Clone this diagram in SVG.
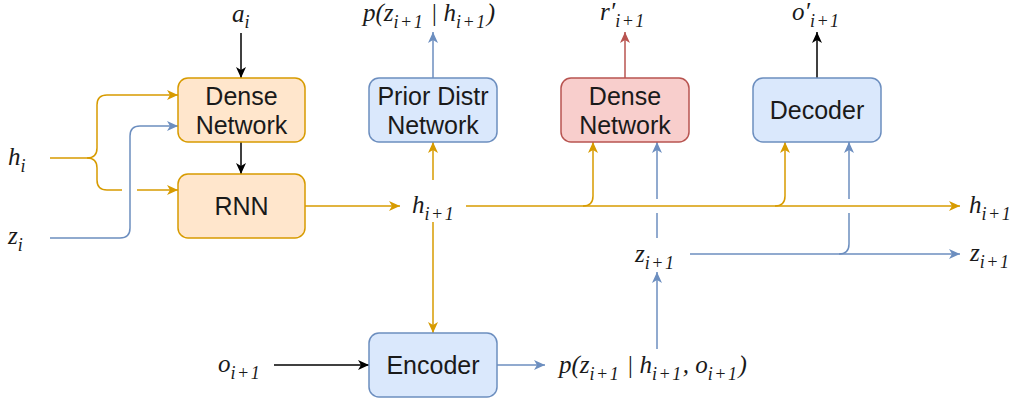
<svg xmlns="http://www.w3.org/2000/svg" width="1014" height="401" viewBox="0 0 1014 401">
<style>
.box{stroke-width:1.5}
.or{fill:#ffe6cc;stroke:#d79b00}
.bl{fill:#dae8fc;stroke:#6c8ebf}
.rd{fill:#f8cecc;stroke:#b85450}
.t{font-family:"Liberation Sans",Arial,sans-serif;font-size:25px;fill:#1a1a1a;text-anchor:middle}
.m{font-family:"Liberation Serif","Noto Serif","DejaVu Serif","Times New Roman",serif;font-style:italic;font-size:25px;fill:#1a1a1a}
.s{font-size:18px;letter-spacing:1.5px}
.c{fill:none;stroke-width:1.5}
.k{stroke:#000}
.o{stroke:#d79b00}
.b{stroke:#6c8ebf}
.r{stroke:#b85450}
</style>
<defs>
<marker id="ak" markerUnits="userSpaceOnUse" markerWidth="12" markerHeight="10" refX="11" refY="5" orient="auto"><path d="M0,0 L11,5 L0,10 L3,5 Z" fill="#000"/></marker>
<marker id="ao" markerUnits="userSpaceOnUse" markerWidth="12" markerHeight="10" refX="11" refY="5" orient="auto"><path d="M0,0 L11,5 L0,10 L3,5 Z" fill="#d79b00"/></marker>
<marker id="ab" markerUnits="userSpaceOnUse" markerWidth="12" markerHeight="10" refX="11" refY="5" orient="auto"><path d="M0,0 L11,5 L0,10 L3,5 Z" fill="#6c8ebf"/></marker>
<marker id="ar" markerUnits="userSpaceOnUse" markerWidth="12" markerHeight="10" refX="11" refY="5" orient="auto"><path d="M0,0 L11,5 L0,10 L3,5 Z" fill="#b85450"/></marker>
</defs>

<g id="connectors">
<path class="c k" d="M241,33 L241,78" marker-end="url(#ak)"/>
<path class="c k" d="M241,142 L241,174" marker-end="url(#ak)"/>
<path class="c o" d="M50,158 L87,158 Q97,158 97,148 L97,105 Q97,95 107,95 L178,95" marker-end="url(#ao)"/>
<path class="c o" d="M87,158 Q97,158 97,168 L97,180 Q97,190 107,190 L122,190"/>
<path class="c o" d="M137,190 L178,190" marker-end="url(#ao)"/>
<path class="c b" d="M50,238 L120,238 Q130,238 130,228 L130,136 Q130,126 140,126 L178,126" marker-end="url(#ab)"/>
<path class="c o" d="M305,206 L400,206" marker-end="url(#ao)"/>
<path class="c o" d="M433,180 L433,142" marker-end="url(#ao)"/>
<path class="c o" d="M433,222 L433,333" marker-end="url(#ao)"/>
<path class="c o" d="M466,206 L960,206" marker-end="url(#ao)"/>
<path class="c o" d="M583,206 Q593,206 593,196 L593,142" marker-end="url(#ao)"/>
<path class="c o" d="M775,206 Q785,206 785,196 L785,142" marker-end="url(#ao)"/>
<path class="c b" d="M497,365 L545,365" marker-end="url(#ab)"/>
<path class="c b" d="M657,349 L657,272" marker-end="url(#ab)"/>
<path class="c b" d="M657,238 L657,213"/>
<path class="c b" d="M657,199 L657,142" marker-end="url(#ab)"/>
<path class="c b" d="M690,254 L960,254" marker-end="url(#ab)"/>
<path class="c b" d="M839,254 Q849,254 849,244 L849,213"/>
<path class="c b" d="M849,199 L849,142" marker-end="url(#ab)"/>
<path class="c k" d="M274,365 L369,365" marker-end="url(#ak)"/>
<path class="c k" d="M817,78 L817,32" marker-end="url(#ak)"/>
<path class="c r" d="M625,78 L625,32" marker-end="url(#ar)"/>
<path class="c b" d="M433,78 L433,32" marker-end="url(#ab)"/>
</g>

<g id="dense1"><rect class="box or" x="178" y="78" width="127" height="64" rx="10"/><text class="t" x="241.5" y="105">Dense</text><text class="t" x="241.5" y="134">Network</text></g>
<g id="rnn"><rect class="box or" x="178" y="174" width="127" height="64" rx="10"/><text class="t" x="241.5" y="215">RNN</text></g>
<g id="prior"><rect class="box bl" x="369" y="78" width="128" height="64" rx="10"/><text class="t" x="433" y="105">Prior Distr</text><text class="t" x="433" y="134">Network</text></g>
<g id="dense2"><rect class="box rd" x="561" y="78" width="128" height="64" rx="10"/><text class="t" x="625" y="105">Dense</text><text class="t" x="625" y="134">Network</text></g>
<g id="decoder"><rect class="box bl" x="753" y="78" width="128" height="64" rx="10"/><text class="t" x="817" y="119">Decoder</text></g>
<g id="encoder"><rect class="box bl" x="369" y="333" width="128" height="64" rx="10"/><text class="t" x="433" y="374">Encoder</text></g>

<g id="labels">
<text class="m" x="232" y="22">a<tspan class="s" dy="6">i</tspan></text>
<text class="m" x="363" y="21">p(z<tspan class="s" dy="7">i+1</tspan><tspan dy="-7"> | h</tspan><tspan class="s" dy="7">i+1</tspan><tspan dy="-7">)</tspan></text>
<text class="m" x="600" y="20">r′<tspan class="s" dy="7">i+1</tspan></text>
<text class="m" x="792" y="20">o′<tspan class="s" dy="7">i+1</tspan></text>
<text class="m" x="8" y="165">h<tspan class="s" dy="7">i</tspan></text>
<text class="m" x="8" y="244">z<tspan class="s" dy="7">i</tspan></text>
<text class="m" x="412" y="213">h<tspan class="s" dy="7">i+1</tspan></text>
<text class="m" x="969" y="213">h<tspan class="s" dy="7">i+1</tspan></text>
<text class="m" x="635" y="262">z<tspan class="s" dy="7">i+1</tspan></text>
<text class="m" x="970" y="261">z<tspan class="s" dy="7">i+1</tspan></text>
<text class="m" x="218" y="372">o<tspan class="s" dy="7">i+1</tspan></text>
<text class="m" x="559" y="373">p(z<tspan class="s" dy="7">i+1</tspan><tspan dy="-7"> | h</tspan><tspan class="s" dy="7">i+1</tspan><tspan dy="-7">, o</tspan><tspan class="s" dy="7">i+1</tspan><tspan dy="-7">)</tspan></text>
</g>
</svg>
